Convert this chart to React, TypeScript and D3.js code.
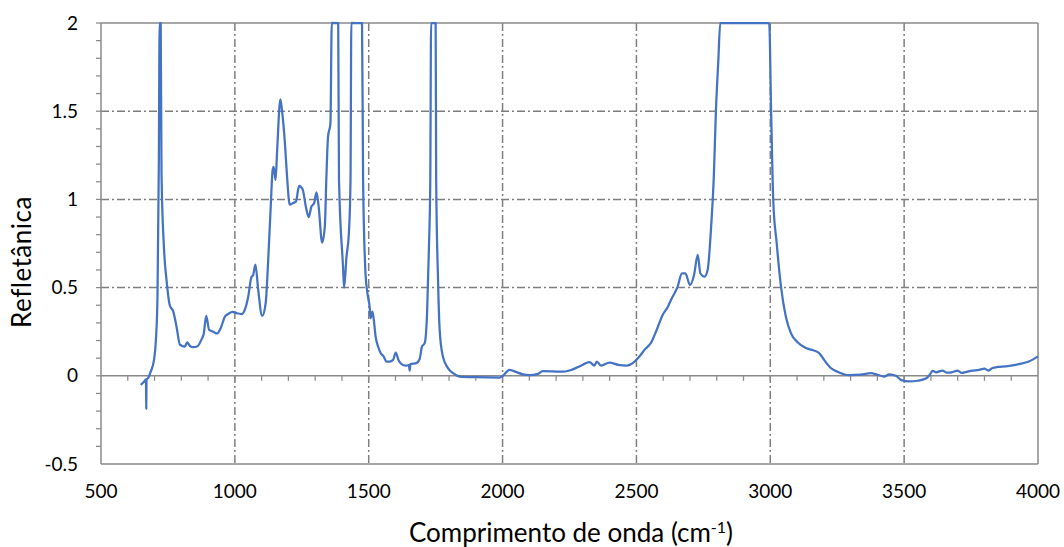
import React from "react";
import * as d3 from "d3";

const wavenumber = [
  648, 660, 668, 669, 670, 676, 686, 698, 705, 711, 716, 719, 723, 726, 735, 745, 757, 770, 782, 795,
  813, 822, 832, 844, 859, 876, 884, 893, 904, 919, 934, 947, 963, 975, 991, 1006, 1025, 1037, 1050, 1062,
  1068, 1077, 1087, 1102, 1115, 1124, 1134, 1141, 1145, 1152, 1158, 1170, 1176, 1187, 1195, 1205, 1218, 1228, 1240, 1253,
  1265, 1276, 1286, 1296, 1305, 1313, 1326, 1336, 1342, 1348, 1357, 1362, 1386, 1389, 1404, 1408, 1417, 1426, 1432, 1435,
  1475, 1479, 1488, 1495, 1504, 1507, 1514, 1519, 1526, 1535, 1545, 1556, 1566, 1578, 1591, 1601, 1611, 1623, 1638, 1650,
  1653, 1656, 1678, 1690, 1699, 1709, 1718, 1725, 1730, 1733, 1750, 1752, 1759, 1765, 1777, 1796, 1815, 1840, 1902, 1989,
  2001, 2026, 2045, 2076, 2101, 2132, 2150, 2187, 2225, 2250, 2287, 2325, 2343, 2352, 2368, 2399, 2437, 2462, 2493, 2511,
  2530, 2555, 2573, 2598, 2617, 2629, 2654, 2670, 2683, 2700, 2715, 2729, 2739, 2754, 2766, 2779, 2789, 2797, 2806, 2813,
  2996, 3003, 3011, 3024, 3040, 3058, 3077, 3102, 3133, 3160, 3183, 3201, 3226, 3257, 3294, 3338, 3376, 3400, 3425, 3444,
  3469, 3488, 3519, 3550, 3581, 3596, 3606, 3620, 3643, 3660, 3681, 3700, 3715, 3730, 3750, 3780, 3800, 3815, 3830, 3850,
  3879, 3910, 3929, 3966, 4000,
];

const reflectance = [
  -0.051, -0.035, -0.02, -0.187, -0.02, -0.013, 0.025, 0.09, 0.2, 0.45, 1.2, 2.0, 2.0, 1.15, 0.73, 0.54, 0.4, 0.364, 0.28, 0.176,
  0.166, 0.189, 0.17, 0.162, 0.166, 0.208, 0.24, 0.34, 0.26, 0.25, 0.24, 0.27, 0.336, 0.35, 0.362, 0.355, 0.35, 0.374, 0.45, 0.56,
  0.57, 0.63, 0.49, 0.34, 0.41, 0.64, 0.96, 1.166, 1.185, 1.11, 1.28, 1.567, 1.506, 1.318, 1.128, 0.97, 0.98, 0.987, 1.076, 1.057,
  0.96, 0.9, 0.96, 0.978, 1.04, 0.96, 0.755, 0.845, 1.13, 1.355, 1.43, 2.0, 2.0, 1.11, 0.62, 0.5, 0.675, 0.81, 1.11, 2.0,
  2.0, 1.11, 0.58, 0.47, 0.383, 0.327, 0.364, 0.317, 0.22, 0.166, 0.128, 0.109, 0.081, 0.081, 0.09, 0.132, 0.09, 0.066, 0.057, 0.06,
  0.03, 0.066, 0.072, 0.094, 0.166, 0.185, 0.355, 0.73, 1.11, 2.0, 2.0, 1.11, 0.54, 0.26, 0.109, 0.044, 0.015, -0.004, -0.008, -0.01,
  0.0, 0.034, 0.025, 0.008, 0.004, 0.011, 0.026, 0.025, 0.023, 0.03, 0.053, 0.077, 0.058, 0.081, 0.058, 0.075, 0.06, 0.058, 0.081, 0.109,
  0.147, 0.189, 0.25, 0.345, 0.39, 0.43, 0.506, 0.58, 0.58, 0.515, 0.57, 0.685, 0.58, 0.562, 0.6, 0.845, 1.128, 1.506, 1.79, 2.0,
  2.0, 1.506, 0.997, 0.75, 0.506, 0.336, 0.242, 0.19, 0.157, 0.145, 0.128, 0.09, 0.044, 0.019, 0.004, 0.006, 0.015, 0.006, -0.004, 0.008,
  0.0, -0.023, -0.032, -0.028, -0.015, 0.006, 0.028, 0.02, 0.03, 0.018, 0.021, 0.03, 0.016, 0.021, 0.028, 0.034, 0.04, 0.03, 0.044, 0.05,
  0.053, 0.06, 0.066, 0.081, 0.11,
];

const xTicks = [500, 1000, 1500, 2000, 2500, 3000, 3500, 4000];
const yTicks = [-0.5, 0, 0.5, 1, 1.5, 2];
const xMinorTicks = d3.range(600, 4000, 100);
const yMinorTicks = d3.range(-0.4, 2.0001, 0.1);

const FONT = "Lato, 'Open Sans', sans-serif";

export default function App() {
  const W = 1064, H = 547;
  const x = d3.scaleLinear().domain([500, 4000]).range([101, 1038]);
  const y = d3.scaleLinear().domain([-0.5, 2]).range([464, 23]);
  const data = wavenumber.map((w, i) => [w, reflectance[i]] as [number, number]);
  const line = d3
    .line<[number, number]>()
    .x((d) => x(d[0]))
    .y((d) => y(d[1]))
    .curve(d3.curveMonotoneX);

  const grid = "#7f7f7f";
  const axis = "#8a8a8a";
  const dash = "8,3,2,3";

  return (
    <svg width={W} height={H} style={{ position: "absolute", left: 0, top: 0, background: "#fff" }}>
      {xTicks.slice(1, -1).map((t) => (
        <line key={"vg" + t} x1={x(t)} x2={x(t)} y1={y(2)} y2={y(-0.5)} stroke={grid} strokeWidth={1.5} strokeDasharray={dash} />
      ))}
      {[0.5, 1, 1.5].map((t) => (
        <line key={"hg" + t} x1={x(500)} x2={x(4000)} y1={y(t)} y2={y(t)} stroke={grid} strokeWidth={1.5} strokeDasharray={dash} />
      ))}
      <line x1={x(500)} x2={x(4000)} y1={y(2)} y2={y(2)} stroke={axis} strokeWidth={1.5} />
      <line x1={x(500)} x2={x(4000)} y1={y(-0.5)} y2={y(-0.5)} stroke={axis} strokeWidth={1.5} />
      <line x1={x(4000)} x2={x(4000)} y1={y(2)} y2={y(-0.5)} stroke={axis} strokeWidth={1.5} />
      <line x1={x(500)} x2={x(500)} y1={y(2)} y2={y(-0.5)} stroke={axis} strokeWidth={1.5} />
      {yMinorTicks.map((t, i) => (
        <line key={"ym" + i} x1={x(500) - 5} x2={x(500)} y1={y(t)} y2={y(t)} stroke={axis} strokeWidth={1.25} />
      ))}
      <line x1={x(500)} x2={x(4000)} y1={y(0)} y2={y(0)} stroke={axis} strokeWidth={1.5} />
      {xMinorTicks.map((t) => (
        <line key={"xm" + t} x1={x(t)} x2={x(t)} y1={y(0)} y2={y(0) + 5} stroke={axis} strokeWidth={1.25} />
      ))}
      <path d={line(data) || ""} fill="none" stroke="#4472C4" strokeWidth={2.25} strokeLinejoin="round" />
      {yTicks.map((t) => (
        <text key={"yl" + t} x={78} y={y(t)} dy="0.35em" textAnchor="end" fontFamily={FONT} fontSize={19} fill="#000">
          {t}
        </text>
      ))}
      {xTicks.map((t) => (
        <text key={"xl" + t} x={x(t)} y={491} dy="0.35em" textAnchor="middle" fontFamily={FONT} fontSize={19} fill="#000">
          {t}
        </text>
      ))}
      <text x={571} y={533} dy="0.35em" textAnchor="middle" fontFamily={FONT} fontSize={26} fill="#000">
        Comprimento de onda (cm<tspan dy="-9" fontSize={16}>-1</tspan><tspan dy="9">)</tspan>
      </text>
      <text transform="translate(22,262) rotate(-90)" dy="0.35em" textAnchor="middle" fontFamily={FONT} fontSize={26} letterSpacing={0.5} fill="#000">
        Refletânica
      </text>
    </svg>
  );
}
